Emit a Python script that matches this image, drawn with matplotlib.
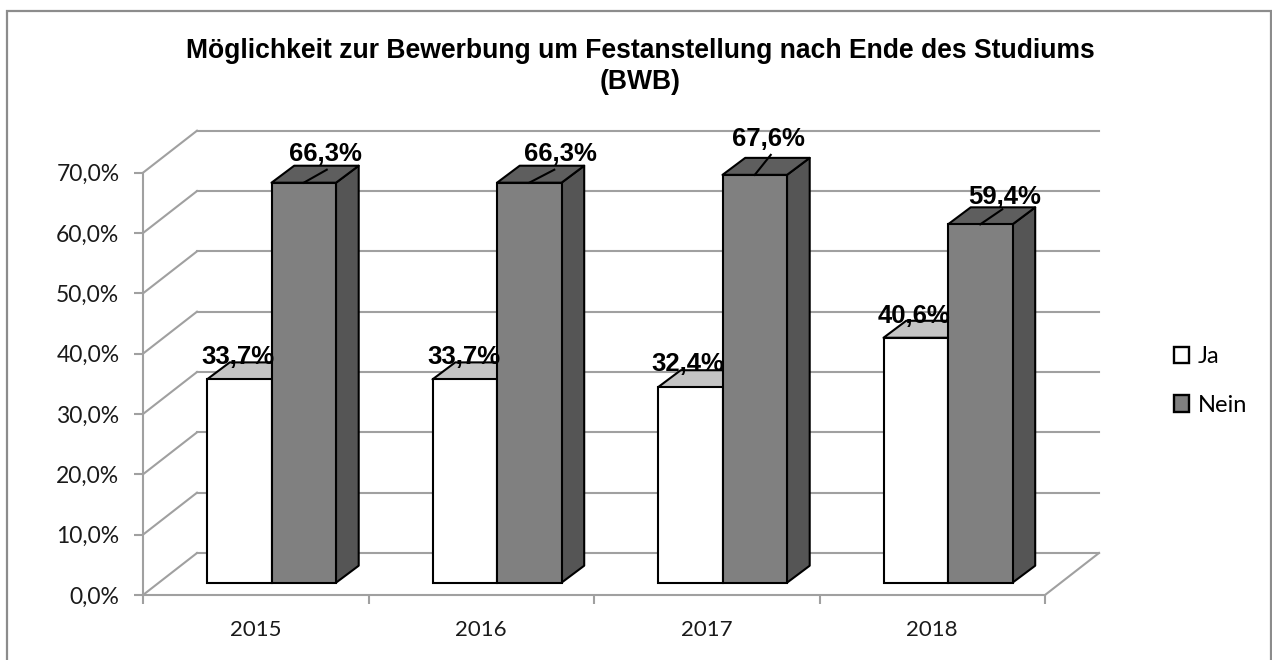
import matplotlib
matplotlib.use('Agg')
import matplotlib.pyplot as plt
from matplotlib.patches import Patch, Polygon, Rectangle

title = ['Möglichkeit zur Bewerbung um Festanstellung nach Ende des Studiums', '(BWB)']
years = ['2015', '2016', '2017', '2018']
ja = [33.7, 33.7, 32.4, 40.6]
nein = [66.3, 66.3, 67.6, 59.4]
yticks = [0, 10, 20, 30, 40, 50, 60, 70]

GRID = '#a0a0a0'
W, H = 1272, 660

# axes box in pixels, the 3d look is drawn on top of it
LEFT, RIGHT, BOTTOM, TOP = 143, 1045, 595, 172.7
PX = 4 / (RIGHT - LEFT)     # one pixel in x data units
PY = 70 / (BOTTOM - TOP)    # one pixel in y data units

WALL_X, WALL_Y = 54 * PX, 42 * PY
SIDE_X, SIDE_Y = 22.7 * PX, 17 * PY
BAR_START = 64 * PX
BAR_W = 64.5 * PX
BAR_BASE = 12.3 * PY


def pct(v):
    return ('%.1f%%' % v).replace('.', ',')


fig = plt.figure(figsize=(W / 100, H / 100), dpi=100)
ax = fig.add_axes([LEFT / W, 1 - BOTTOM / H, (RIGHT - LEFT) / W, (BOTTOM - TOP) / H])
ax.set_xlim(0, 4)
ax.set_ylim(0, 70)
ax.patch.set_visible(False)

for s in ['top', 'right']:
    ax.spines[s].set_visible(False)
for s in ['left', 'bottom']:
    ax.spines[s].set_color(GRID)
    ax.spines[s].set_linewidth(1.5)

ax.set_yticks(yticks)
ax.set_yticklabels([pct(v) for v in yticks], family='Lato', fontsize=16.5, color='#1a1a1a')
ax.set_xticks(range(5))
ax.set_xticklabels([])
ax.set_xticks([i + 0.5 for i in range(4)], minor=True)
ax.set_xticklabels(years, minor=True, family='Lato', fontsize=16, color='#1a1a1a')
ax.tick_params(axis='both', which='major', color=GRID, width=1.5, length=6.5)
ax.tick_params(axis='y', pad=10.5)
ax.tick_params(axis='x', which='minor', length=0, pad=18)

# side wall, floor edge and back wall
for v in yticks:
    ax.plot([0, WALL_X], [v, v + WALL_Y], color=GRID, lw=1.5, clip_on=False, zorder=1)
    ax.plot([WALL_X, 4 + WALL_X], [v + WALL_Y, v + WALL_Y], color=GRID, lw=1.5, clip_on=False, zorder=1)
ax.plot([4, 4 + WALL_X], [0, WALL_Y], color=GRID, lw=1.5, clip_on=False, zorder=1)


def bar3d(x, val, front, top, side, z):
    b = BAR_BASE
    h = BAR_BASE + val
    ax.add_patch(Polygon([(x + BAR_W, b), (x + BAR_W + SIDE_X, b + SIDE_Y), (x + BAR_W + SIDE_X, h + SIDE_Y), (x + BAR_W, h)],
                         fc=side, ec='black', lw=1.5, clip_on=False, zorder=z, joinstyle='round'))
    ax.add_patch(Polygon([(x, h), (x + SIDE_X, h + SIDE_Y), (x + BAR_W + SIDE_X, h + SIDE_Y), (x + BAR_W, h)],
                         fc=top, ec='black', lw=1.5, clip_on=False, zorder=z, joinstyle='round'))
    ax.add_patch(Rectangle((x, b), BAR_W, val, fc=front, ec='black', lw=1.5, clip_on=False, zorder=z + 0.5))


# label shifts in pixels from the top of the bar
ja_off = [(-1, 22.5), (-1, 22.5), (-2, 23.5), (-2, 21.5)]
nein_off = [(22, 29), (31, 29), (14, 36), (24, 27.5)]
leader = [(23, 13), (25, 13), (16, 20), (22, 15)]

for i in range(4):
    x1 = i + BAR_START
    x2 = x1 + BAR_W
    bar3d(x1, ja[i], 'white', '#c4c4c4', '#555555', 3)
    bar3d(x2, nein[i], '#808080', '#5e5e5e', '#555555', 4)

    cx = x2 + BAR_W / 2
    top_n = BAR_BASE + nein[i]
    top_j = BAR_BASE + ja[i]
    ax.plot([cx, cx + leader[i][0] * PX], [top_n, top_n + leader[i][1] * PY], color='black', lw=1.5, zorder=5, clip_on=False)

    ax.text(x1 + BAR_W / 2 + ja_off[i][0] * PX, top_j + ja_off[i][1] * PY, pct(ja[i]),
            family='Liberation Sans', fontweight='bold', fontsize=18.5, ha='center', va='center', zorder=6, clip_on=False)
    ax.text(cx + nein_off[i][0] * PX, top_n + nein_off[i][1] * PY, pct(nein[i]),
            family='Liberation Sans', fontweight='bold', fontsize=18.5, ha='center', va='center', zorder=6, clip_on=False)

fig.text(640 / W, 1 - 51 / H, title[0], family='Liberation Sans', fontweight='bold', fontsize=19.1, ha='center', va='center')
fig.text(640 / W, 1 - 82 / H, title[1], family='Liberation Sans', fontweight='bold', fontsize=19.1, ha='center', va='center')

handles = [Patch(fc='white', ec='black', lw=1.7), Patch(fc='#808080', ec='black', lw=1.7)]
fig.legend(handles, ['Ja', 'Nein'], loc='center left', bbox_to_anchor=(1174 / W, 1 - 381 / H), frameon=False,
           prop={'family': 'Lato', 'size': 17}, handlelength=0.62, handleheight=0.68, handletextpad=0.4, labelspacing=1.17, borderpad=0, borderaxespad=0)

# outer chart frame, open at the bottom of the image
fig.add_artist(Rectangle((6.5 / W, -0.02), 1264.5 / W, 1.02 - 10.5 / H, transform=fig.transFigure, fc='none', ec='#8c8c8c', lw=1.6))

fig.savefig('out.png', dpi=100)
